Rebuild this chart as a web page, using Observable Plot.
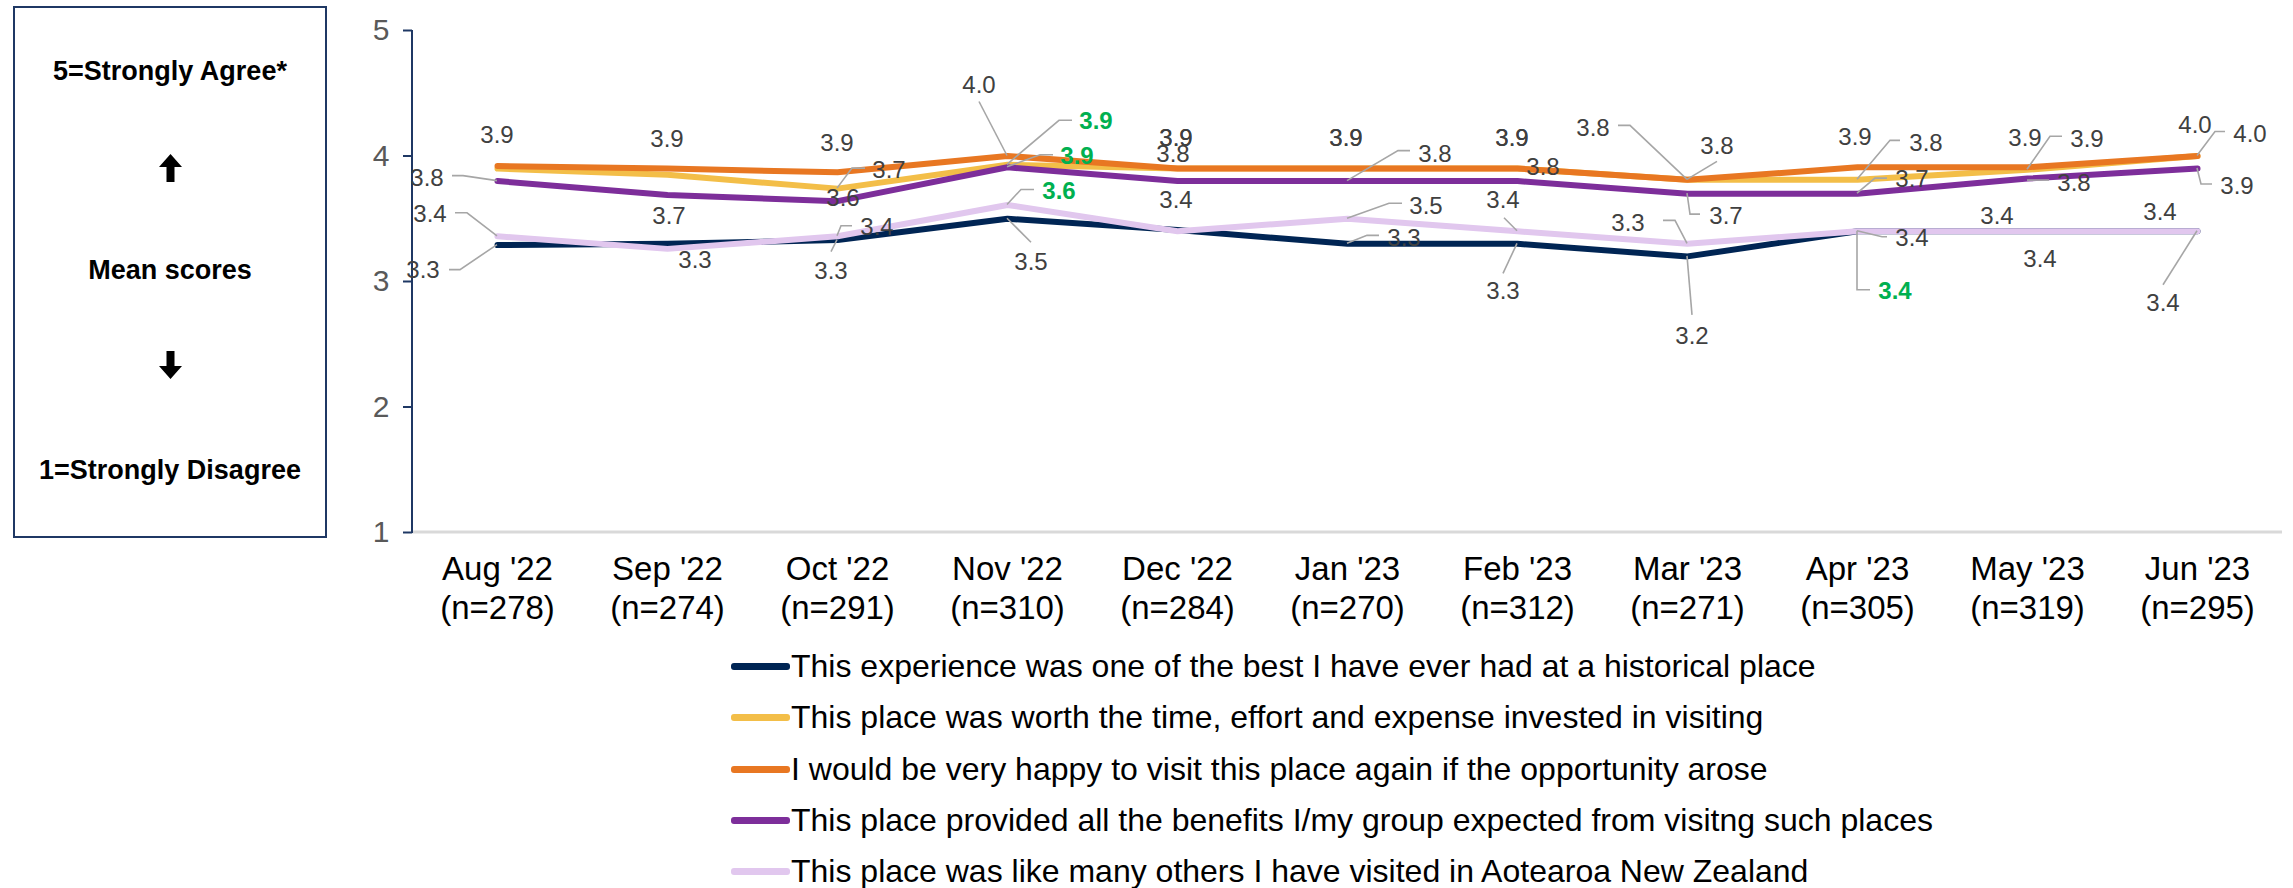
<!DOCTYPE html>
<html><head><meta charset="utf-8">
<script src="https://cdn.jsdelivr.net/npm/d3@7"></script>
<script src="https://cdn.jsdelivr.net/npm/@observablehq/plot@0.6"></script>
<style>
body{margin:0;background:#fff;font-family:"Liberation Sans",Arial,sans-serif;width:2293px;height:888px;position:relative;overflow:hidden}
#box{position:absolute;left:13px;top:6px;width:314px;height:532px;border:2px solid #1F3864;box-sizing:border-box}
.bt{position:absolute;left:13px;width:314px;text-align:center;font-weight:bold;font-size:27px;color:#000;line-height:1}
#chart{position:absolute;left:0;top:0}
#legend{position:absolute;left:731px;top:641px}
.row{display:flex;align-items:center;height:51.25px}
.sw{width:59px;height:7px;border-radius:3px;margin-right:1px}
.lt{font-size:32px;color:#000;white-space:nowrap}
</style></head>
<body>
<div id="box"></div>
<div class="bt" style="top:58px">5=Strongly Agree*</div>
<svg style="position:absolute;left:159px;top:154px" width="23" height="28" viewBox="0 0 23 28"><path d="M11.5 0 L23 13 L15.5 13 L15.5 28 L7.5 28 L7.5 13 L0 13 Z" fill="#000"/></svg>
<div class="bt" style="top:257px">Mean scores</div>
<svg style="position:absolute;left:159px;top:351px" width="23" height="28" viewBox="0 0 23 28"><path d="M11.5 28 L23 15 L15.5 15 L15.5 0 L7.5 0 L7.5 15 L0 15 Z" fill="#000"/></svg>
<div class="bt" style="top:457px">1=Strongly Disagree</div>
<div id="chart"></div>
<div id="legend"></div>
<script>
// ---- data ----
const months = ["Aug '22","Sep '22","Oct '22","Nov '22","Dec '22","Jan '23","Feb '23","Mar '23","Apr '23","May '23","Jun '23"];
const sampleSizes = [278,274,291,310,284,270,312,271,305,319,295];
const seriesNames = [
  "This experience was one of the best I have ever had at a historical place",
  "This place was worth the time, effort and expense invested in visiting",
  "I would be very happy to visit this place again if the opportunity arose",
  "This place provided all the benefits I/my group expected from visitng such places",
  "This place was like many others I have visited in Aotearoa New Zealand"
];
const seriesColors = ["#002554","#F3BE48","#E87722","#7D2E9A","#E1C7EE"];
const bestExperience = [3.29,3.30,3.33,3.50,3.41,3.30,3.30,3.20,3.40,3.40,3.40];
const worthTime      = [3.90,3.85,3.74,3.93,3.90,3.90,3.90,3.81,3.81,3.89,4.00];
const visitAgain     = [3.92,3.90,3.87,4.00,3.90,3.90,3.90,3.81,3.91,3.91,4.00];
const allBenefits    = [3.80,3.69,3.64,3.91,3.80,3.80,3.80,3.70,3.70,3.82,3.90];
const likeOthers     = [3.36,3.26,3.36,3.61,3.40,3.50,3.40,3.30,3.40,3.40,3.40];
const seriesValues = [bestExperience, worthTime, visitAgain, allBenefits, likeOthers];
const yTicks = [1,2,3,4,5];
// labels shown in green (series index, month index)
const greenLabels = [[1,3],[3,3],[4,3],[0,8]];

// ---- label layout (pixel offsets from the data point, and leader polylines) ----
const labelLayout = [
  [2,0,0,-31],[3,0,-70,-3,[[-45,-5],[-34,-5],[0,0]]],[4,0,-67,-22,[[-42,-23],[-30,-23],[0,0]]],[0,0,-74,25,[[-48,25],[-37,25],[0,0]]],
  [2,1,0,-30],[3,1,2,21],[4,1,28,11],
  [2,2,0,-29],[1,2,52,-19,[[28,-20],[15,-20],[0,0]]],[3,2,6,-3],[4,2,40,-9,[[15,-10],[4,-10],[0,0]]],[0,2,-6,31,[[-6,12],[0,0]]],
  [2,3,-28,-71,[[-28,-54],[0,0]]],[1,3,89,-44,[[65,-44],[52,-44],[0,0]]],[3,3,70,-11,[[46,-12],[33,-12],[0,0]]],[4,3,52,-14,[[27,-15],[14,-15],[0,0]]],[0,3,24,43,[[24,24],[0,0]]],
  [2,4,-1,-31],[1,4,-1,-31],[3,4,-4,-27],[4,4,-1,-31],
  [2,5,-1,-31],[1,5,-1,-31],[3,5,88,-27,[[63,-30],[51,-30],[0,0]]],[4,5,79,-13,[[55,-15],[42,-15],[0,0]]],[0,5,57,-6,[[32,-8],[20,-8],[0,0]]],
  [2,6,-5,-31],[1,6,-5,-31],[3,6,26,-14],[4,6,-14,-31,[[-13,-13],[0,0]]],[0,6,-14,47,[[-14,30],[0,0]]],
  [2,7,-94,-52,[[-69,-54],[-57,-54],[0,0]]],[1,7,30,-34,[[30,-18],[0,0]]],[3,7,39,22,[[13,21],[3,21],[0,0]]],[4,7,-59,-21,[[-24,-23],[-12,-23],[0,0]]],[0,7,5,79,[[5,59],[0,0]]],
  [2,8,-2,-30],[1,8,69,-37,[[43,-39],[33,-39],[0,0]]],[3,8,55,-15,[[30,-15],[18,-15],[0,0]]],[4,8,55,7,[[30,6],[25,6],[0,0]]],[0,8,38,60,[[13,59],[0,59],[0,0]]],
  [2,9,-2,-29],[1,9,60,-31,[[35,-33],[23,-33],[0,0]]],[3,9,47,4,[[22,2],[0,2]]],[4,9,-30,-15],[0,9,13,28],
  [2,10,-2,-31],[1,10,53,-22,[[28,-24],[18,-24],[0,0]]],[3,10,40,17,[[15,16],[4,16],[0,0]]],[4,10,-37,-19],[0,10,-34,72,[[-34,54],[0,0]]]
];

const rows = [];
seriesNames.forEach((name, s) => months.forEach((m, i) => rows.push({series: name, month: m, value: seriesValues[s][i]})));
const tickLabel = new Map(months.map((m, i) => [m, `${m}\n(n=${sampleSizes[i]})`]));
const isGreen = (s, m) => greenLabels.some(([a, b]) => a === s && b === m);

function axesLines(index, scales, values, dim) {
  const g = d3.create("svg:g");
  const y1 = scales.y(1), y5 = scales.y(5);
  g.append("line").attr("x1", dim.marginLeft).attr("x2", dim.width - dim.marginRight)
    .attr("y1", y1).attr("y2", y1).attr("stroke", "#D9D9D9").attr("stroke-width", 3);
  g.append("line").attr("x1", dim.marginLeft).attr("x2", dim.marginLeft)
    .attr("y1", y5).attr("y2", y1 + 1).attr("stroke", "#1F3864").attr("stroke-width", 2);
  return g.node();
}

function dataLabels(index, scales) {
  const g = d3.create("svg:g");
  for (const [s, m, dx, dy, leader] of labelLayout) {
    const v = seriesValues[s][m];
    const px = scales.x(months[m]), py = scales.y(v);
    if (leader) g.append("polyline")
      .attr("points", leader.map(([a, b]) => `${px + a},${py + b}`).join(" "))
      .attr("fill", "none").attr("stroke", "#A6A6A6").attr("stroke-width", 1.6);
    const green = isGreen(s, m);
    g.append("text").attr("x", px + dx).attr("y", py + dy).attr("dy", "0.36em")
      .attr("text-anchor", "middle")
      .attr("fill", green ? "#00B050" : "#404040")
      .attr("font-weight", green ? "bold" : "normal")
      .attr("font-size", 24)
      .text(v.toFixed(1));
  }
  return g.node();
}

const chart = Plot.plot({
  width: 2293, height: 640,
  marginLeft: 412, marginRight: 11, marginTop: 30, marginBottom: 108,
  style: {fontFamily: '"Liberation Sans", Arial, sans-serif', background: "transparent"},
  x: {type: "point", domain: months, padding: 0.5, label: null},
  y: {domain: [1, 5], label: null},
  color: {domain: seriesNames, range: seriesColors},
  marks: [
    axesLines,
    Plot.axisY({ticks: yTicks, tickSize: 9, tickPadding: 14, fontSize: 30, stroke: "#1F3864", strokeWidth: 2, fill: "#595959", label: null, tickFormat: d => String(d)}),
    Plot.axisX({tickSize: 0, tickPadding: 20, fontSize: 33, lineHeight: 1.18, fill: "#000", label: null, tickFormat: d => tickLabel.get(d)}),
    Plot.line(rows, {x: "month", y: "value", z: "series", stroke: "series", strokeWidth: 6, strokeLinecap: "round"}),
    dataLabels
  ]
});
document.getElementById("chart").appendChild(chart);

const legend = d3.select("#legend");
seriesNames.forEach((name, s) => {
  const r = legend.append("div").attr("class", "row");
  r.append("div").attr("class", "sw").style("background", seriesColors[s]);
  r.append("div").attr("class", "lt").text(name);
});
</script>
</body></html>
